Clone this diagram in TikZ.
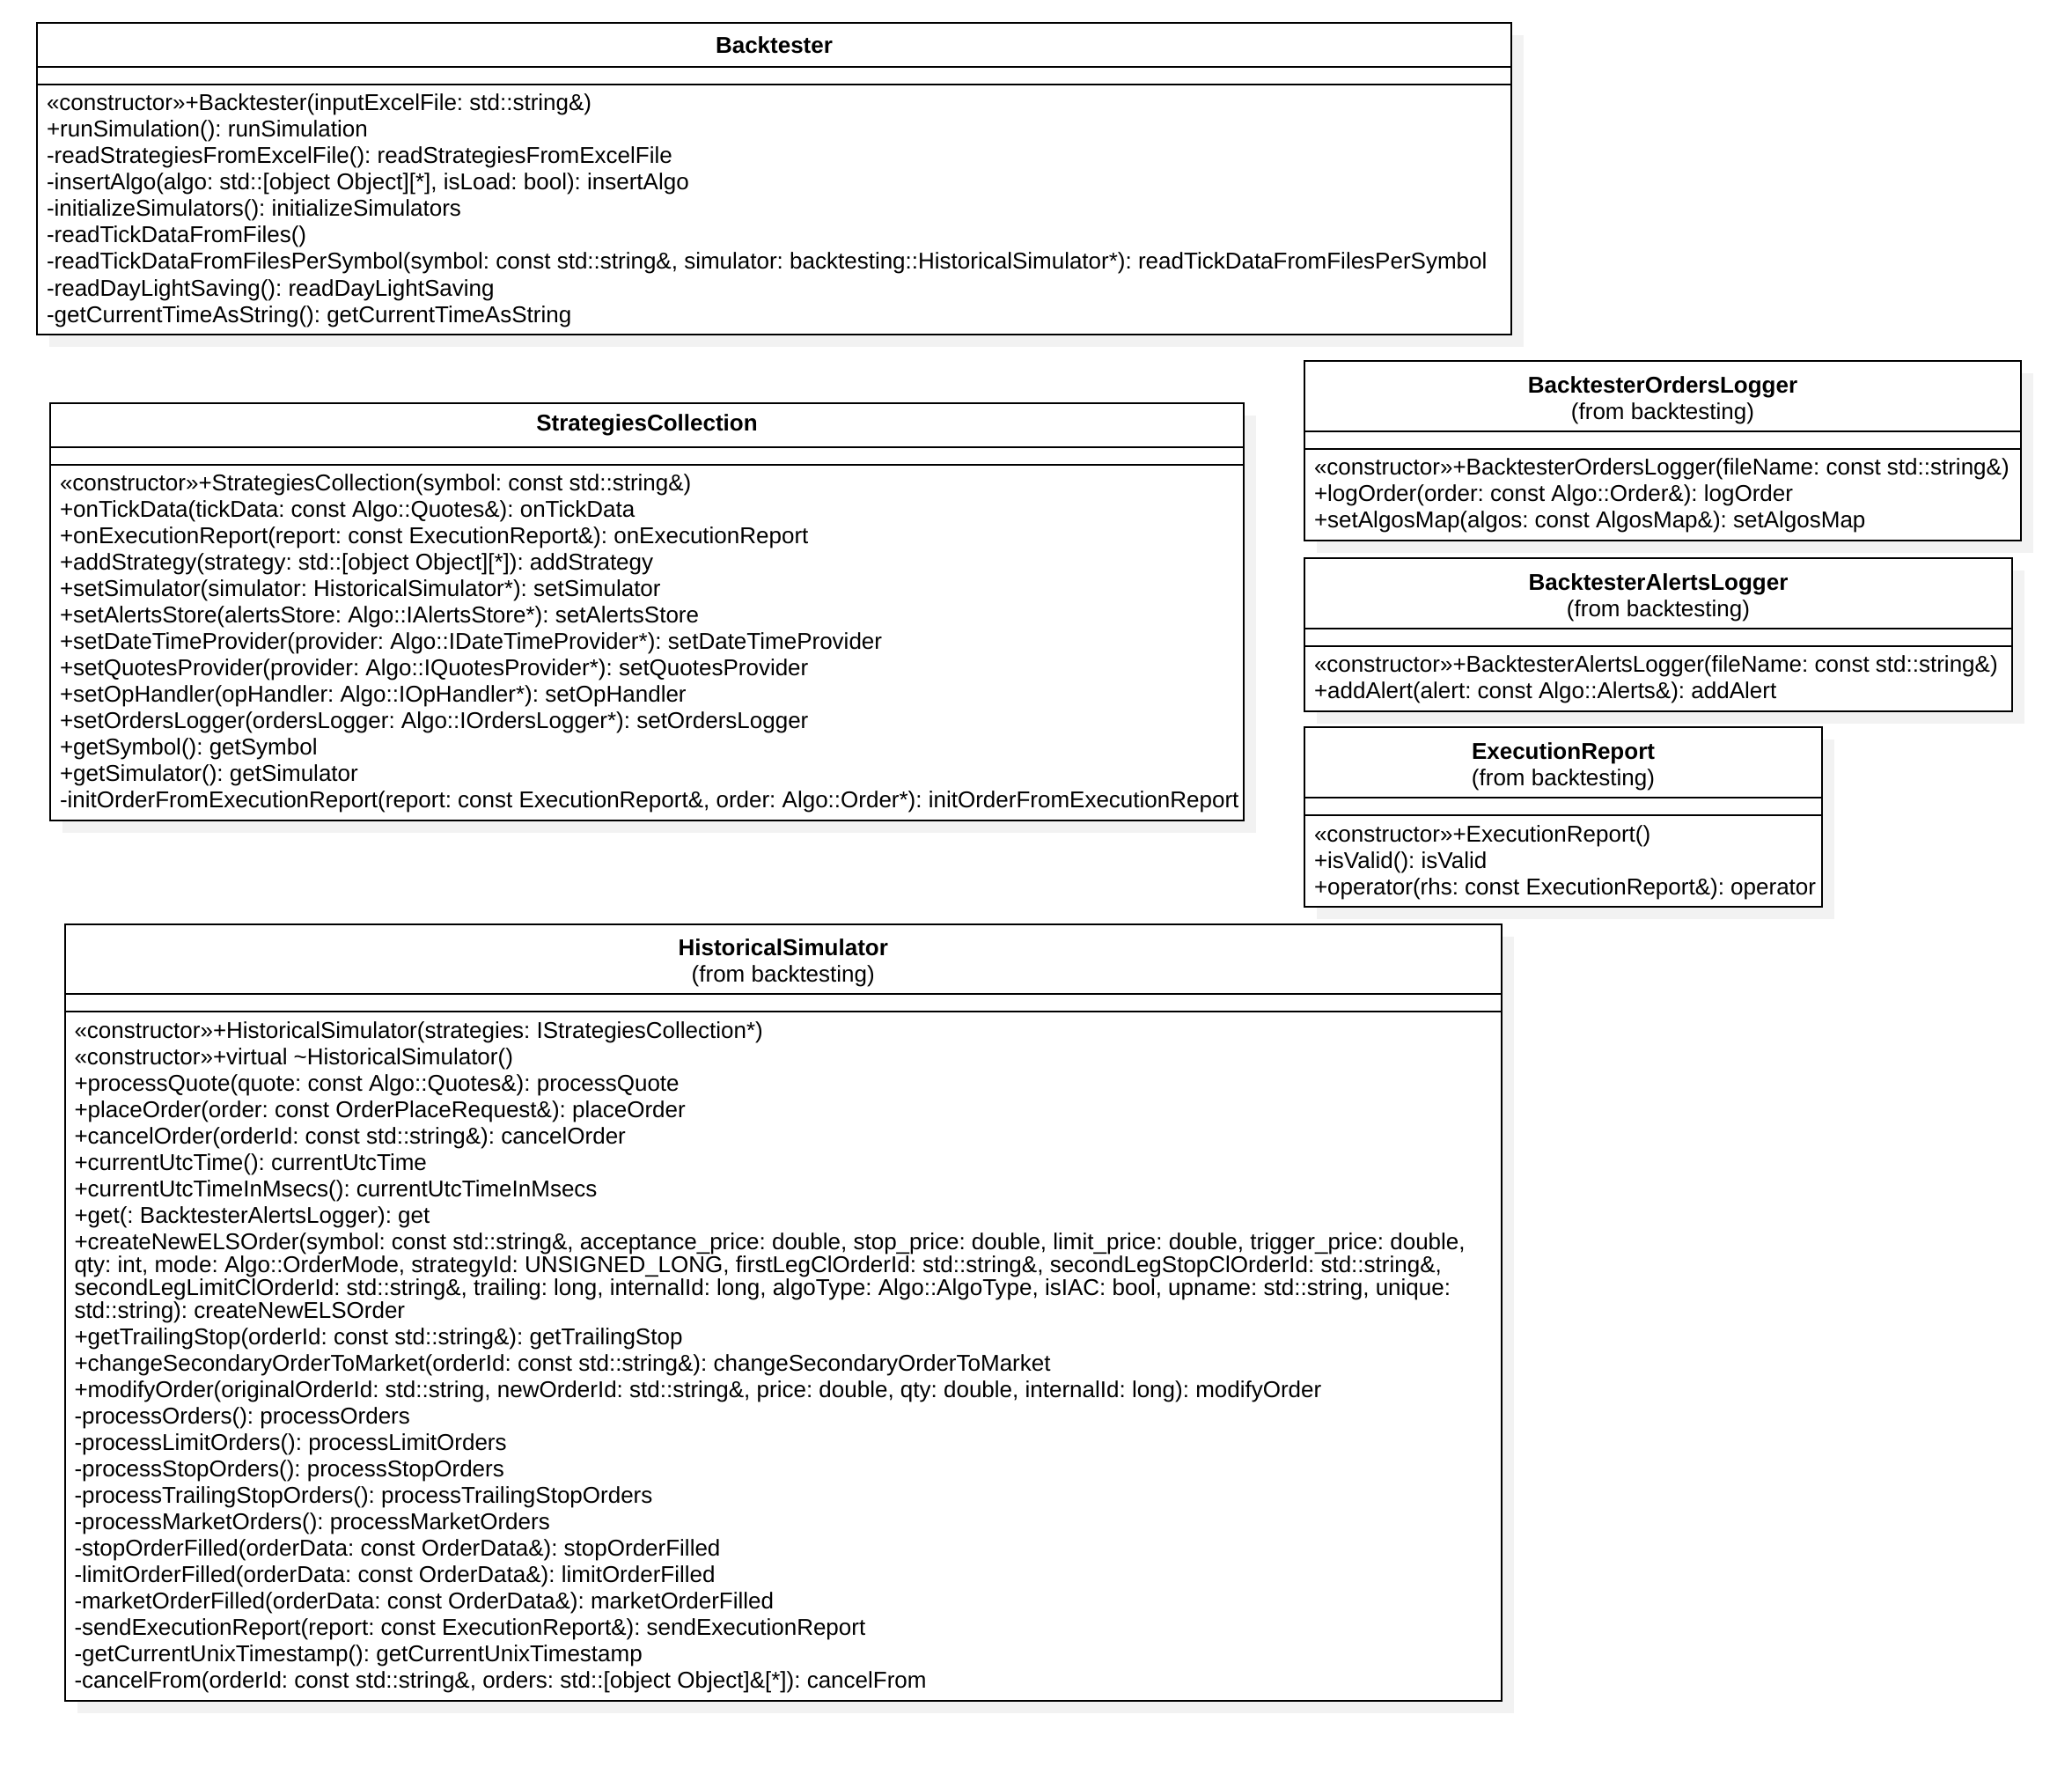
\documentclass[tikz,border=0pt]{standalone}
\usepackage{fontspec}
\setmainfont{Liberation Sans}
\usetikzlibrary{positioning,calc,backgrounds}
\definecolor{umlshadow}{HTML}{F2F2F2}
\newcommand{\pkgtitle}[1]{\rule{0pt}{14pt}\textbf{#1}\\(from backtesting)}
\tikzset{
  umlfont/.style={font=\fontsize{13pt}{15pt}\selectfont\frenchspacing},
  classpart/.style={draw=black, line width=1pt, fill=white, inner sep=0pt, outer sep=0pt, umlfont},
  classhead/.style={classpart, anchor=north west, align=center},
  classattr/.style={classpart, minimum height=10pt},
  classops/.style={classpart},
  opstext/.style={umlfont, align=left, inner sep=0pt, outer sep=0pt},
}

\begin{document}
\begin{tikzpicture}[x=1pt,y=-1pt]
  \useasboundingbox (0,0) rectangle (1177,1003);
  % class frames: name/x/y/width/head height/ops height/title
  \foreach \n/\x/\y/\w/\hh/\oh/\ttl in {
      bt/21/13/837.5/25/142/{\textbf{Backtester}},
      sc/28.5/228.75/678/25/202/{\textbf{StrategiesCollection}},
      ol/741/205/407/39.75/52/{\pkgtitle{BacktesterOrdersLogger}},
      al/741/317/402/39.75/37/{\pkgtitle{BacktesterAlertsLogger}},
      er/741/413/294/40/52/{\pkgtitle{ExecutionReport}},
      hs/36.75/524.75/816.25/39.75/391.25/{\pkgtitle{HistoricalSimulator}}}{
    \node[classhead, minimum width=\w pt, minimum height=\hh pt] (\n-head) at (\x,\y) {\ttl};
    \node[classattr, minimum width=\w pt, below=0pt of \n-head] (\n-attr) {};
    \node[classops, minimum width=\w pt, minimum height=\oh pt, below=0pt of \n-attr] (\n-ops) {};
    \begin{scope}[on background layer]
      \fill[umlshadow] ($(\n-head.north west)+(7pt,-7pt)$) rectangle ($(\n-ops.south east)+(7pt,-7pt)$);
    \end{scope}
  }

  \node[opstext, below right=4.5pt and 5.5pt of bt-ops.north west] (bt-list) {\strut
    «constructor»+Backtester(inputExcelFile: std::string\&)\\
    +runSimulation(): runSimulation\\
    -readStrategiesFromExcelFile(): readStrategiesFromExcelFile\\
    -insertAlgo(algo: std::[object Object][*], isLoad: bool): insertAlgo\\
    -initializeSimulators(): initializeSimulators\\
    -readTickDataFromFiles()\\
    -readTickDataFromFilesPerSymbol(symbol: const std::string\&, simulator: backtesting::HistoricalSimulator*): readTickDataFromFilesPerSymbol\\
    -readDayLightSaving(): readDayLightSaving\\
    -getCurrentTimeAsString(): getCurrentTimeAsString};

  \node[opstext, below right=4.5pt and 5.5pt of sc-ops.north west] (sc-list) {\strut
    «constructor»+StrategiesCollection(symbol: const std::string\&)\\
    +onTickData(tickData: const Algo::Quotes\&): onTickData\\
    +onExecutionReport(report: const ExecutionReport\&): onExecutionReport\\
    +addStrategy(strategy: std::[object Object][*]): addStrategy\\
    +setSimulator(simulator: HistoricalSimulator*): setSimulator\\
    +setAlertsStore(alertsStore: Algo::IAlertsStore*): setAlertsStore\\
    +setDateTimeProvider(provider: Algo::IDateTimeProvider*): setDateTimeProvider\\
    +setQuotesProvider(provider: Algo::IQuotesProvider*): setQuotesProvider\\
    +setOpHandler(opHandler: Algo::IOpHandler*): setOpHandler\\
    +setOrdersLogger(ordersLogger: Algo::IOrdersLogger*): setOrdersLogger\\
    +getSymbol(): getSymbol\\
    +getSimulator(): getSimulator\\
    -initOrderFromExecutionReport(report: const ExecutionReport\&, order: Algo::Order*): initOrderFromExecutionReport};

  \node[opstext, below right=4.5pt and 5.5pt of ol-ops.north west] (ol-list) {\strut
    «constructor»+BacktesterOrdersLogger(fileName: const std::string\&)\\
    +logOrder(order: const Algo::Order\&): logOrder\\
    +setAlgosMap(algos: const AlgosMap\&): setAlgosMap};

  \node[opstext, below right=4.5pt and 5.5pt of al-ops.north west] (al-list) {\strut
    «constructor»+BacktesterAlertsLogger(fileName: const std::string\&)\\
    +addAlert(alert: const Algo::Alerts\&): addAlert};

  \node[opstext, below right=4.5pt and 5.5pt of er-ops.north west] (er-list) {\strut
    «constructor»+ExecutionReport()\\
    +isValid(): isValid\\
    +operator(rhs: const ExecutionReport\&): operator};

  \node[opstext, below right=4.5pt and 5.5pt of hs-ops.north west] (hs-list) {\strut
    «constructor»+HistoricalSimulator(strategies: IStrategiesCollection*)\\
    «constructor»+virtual \textasciitilde HistoricalSimulator()\\
    +processQuote(quote: const Algo::Quotes\&): processQuote\\
    +placeOrder(order: const OrderPlaceRequest\&): placeOrder\\
    +cancelOrder(orderId: const std::string\&): cancelOrder\\
    +currentUtcTime(): currentUtcTime\\
    +currentUtcTimeInMsecs(): currentUtcTimeInMsecs\\
    +get(: BacktesterAlertsLogger): get\\
    +createNewELSOrder(symbol: const std::string\&, acceptance\_price: double, stop\_price: double, limit\_price: double, trigger\_price: double,\\[-2pt]
    qty: int, mode: Algo::OrderMode, strategyId: UNSIGNED\_LONG, firstLegClOrderId: std::string\&, secondLegStopClOrderId: std::string\&,\\[-2pt]
    secondLegLimitClOrderId: std::string\&, trailing: long, internalId: long, algoType: Algo::AlgoType, isIAC: bool, upname: std::string, unique:\\[-2pt]
    std::string): createNewELSOrder\\
    +getTrailingStop(orderId: const std::string\&): getTrailingStop\\
    +changeSecondaryOrderToMarket(orderId: const std::string\&): changeSecondaryOrderToMarket\\
    +modifyOrder(originalOrderId: std::string, newOrderId: std::string\&, price: double, qty: double, internalId: long): modifyOrder\\
    -processOrders(): processOrders\\
    -processLimitOrders(): processLimitOrders\\
    -processStopOrders(): processStopOrders\\
    -processTrailingStopOrders(): processTrailingStopOrders\\
    -processMarketOrders(): processMarketOrders\\
    -stopOrderFilled(orderData: const OrderData\&): stopOrderFilled\\
    -limitOrderFilled(orderData: const OrderData\&): limitOrderFilled\\
    -marketOrderFilled(orderData: const OrderData\&): marketOrderFilled\\
    -sendExecutionReport(report: const ExecutionReport\&): sendExecutionReport\\
    -getCurrentUnixTimestamp(): getCurrentUnixTimestamp\\
    -cancelFrom(orderId: const std::string\&, orders: std::[object Object]\&[*]): cancelFrom};
\end{tikzpicture}
\end{document}
